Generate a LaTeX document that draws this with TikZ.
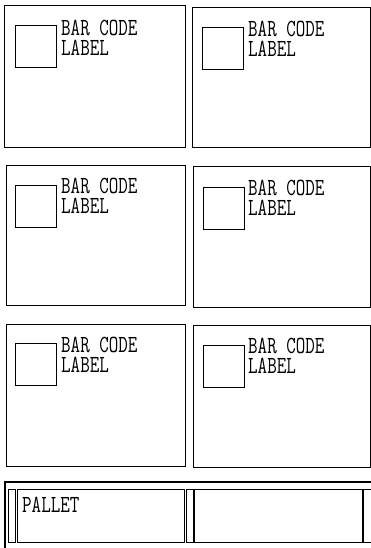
\documentclass[tikz,border=0pt]{standalone}
\usepackage{graphicx}
\begin{document}
\begin{tikzpicture}[x=1pt,y=-1pt,
  box/.style={draw, line width=1.3pt, inner sep=0pt, anchor=north west},
  lblbox/.style={draw, line width=1.1pt, inner sep=0pt, anchor=north west, minimum width=41pt, minimum height=42pt},
  txt/.style={anchor=north west, inner sep=0pt, align=left, font=\fontsize{18.5}{20}\selectfont\ttfamily},
  slat/.style={draw, line width=1.1pt, inner sep=0pt, anchor=north west, minimum height=53pt},
]
\useasboundingbox (0,0) rectangle (371,548);
% row 1
\node[box, minimum width=181pt, minimum height=142pt] (c1) at (4,5) {};
\node[box, minimum width=178pt, minimum height=140pt] (c2) at (192,7) {};
\node[lblbox] (l1) at (15,25) {};
\node[lblbox] (l2) at (202,27) {};
\node[txt] (t1) at (61,20) {\scalebox{1}[1.33]{BAR CODE}\\\scalebox{1}[1.33]{LABEL}};
\node[txt] (t2) at (248,21) {\scalebox{1}[1.33]{BAR CODE}\\\scalebox{1}[1.33]{LABEL}};
% row 2
\node[box, minimum width=179pt, minimum height=140pt] (c3) at (6,165) {};
\node[box, minimum width=177pt, minimum height=141pt] (c4) at (193,166) {};
\node[lblbox] (l3) at (15,185) {};
\node[lblbox] (l4) at (203,187) {};
\node[txt] (t3) at (61,178) {\scalebox{1}[1.33]{BAR CODE}\\\scalebox{1}[1.33]{LABEL}};
\node[txt] (t4) at (248,180) {\scalebox{1}[1.33]{BAR CODE}\\\scalebox{1}[1.33]{LABEL}};
% row 3
\node[box, minimum width=179pt, minimum height=142pt] (c5) at (6,324) {};
\node[box, minimum width=177pt, minimum height=142pt] (c6) at (193,325) {};
\node[lblbox] (l5) at (15,343) {};
\node[lblbox] (l6) at (203,345) {};
\node[txt] (t5) at (61,337) {\scalebox{1}[1.33]{BAR CODE}\\\scalebox{1}[1.33]{LABEL}};
\node[txt] (t6) at (248,338) {\scalebox{1}[1.33]{BAR CODE}\\\scalebox{1}[1.33]{LABEL}};
% pallet
\draw[line width=1.4pt] (371,482) -- (5,482) -- (5,548);
\node[slat, minimum width=7pt] (p1) at (8,489) {};
\node[slat, minimum width=167pt] (p2) at (17,489) {};
\node[slat, minimum width=7pt] (p3) at (186,489) {};
\node[slat, minimum width=168pt] (p4) at (194,489) {};
\node[slat, minimum width=8pt] (p5) at (363,489) {};
\node[txt] (pt) at (22,497) {\scalebox{1}[1.33]{PALLET}};
\end{tikzpicture}
\end{document}
